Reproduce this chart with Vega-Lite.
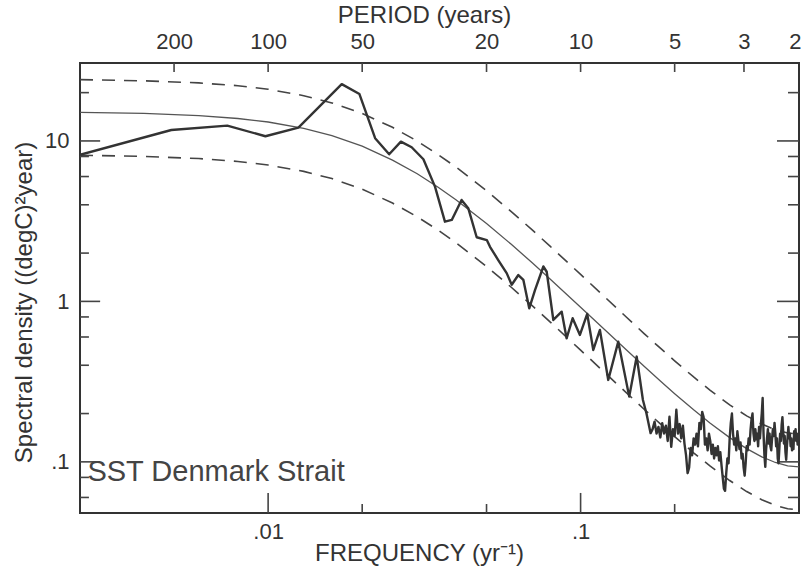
{
  "$schema": "https://vega.github.io/schema/vega-lite/v6.json",
  "width": 719,
  "height": 450,
  "autosize": {"type": "none"},
  "padding": {"left": 80, "top": 63, "right": 2, "bottom": 59},
  "background": "white",
  "config": {
    "view": {"stroke": "#333", "strokeWidth": 2},
    "font": "Liberation Sans",
    "axis": {
      "domain": false, "grid": false, "ticks": false,
      "labelFont": "Liberation Sans", "labelFontSize": 22, "labelColor": "#333",
      "titleFont": "Liberation Sans", "titleFontWeight": "normal", "titleFontSize": 24, "titleColor": "#333",
      "labelOverlap": false, "labelFlush": false, "labelBound": false
    }
  },
  "datasets": {
    "obs": [
      {"f": 0.0025, "s": 8.2}, {"f": 0.0049, "s": 11.7}, {"f": 0.0074, "s": 12.45}, {"f": 0.0098, "s": 10.7},
      {"f": 0.0125, "s": 12.1}, {"f": 0.0172, "s": 22.6}, {"f": 0.0196, "s": 19.6}, {"f": 0.022, "s": 10.4},
      {"f": 0.0244, "s": 8.26}, {"f": 0.0266, "s": 9.9}, {"f": 0.0288, "s": 9.13}, {"f": 0.0314, "s": 7.69},
      {"f": 0.0342, "s": 5.19}, {"f": 0.0368, "s": 3.14}, {"f": 0.0387, "s": 3.22}, {"f": 0.0416, "s": 4.29},
      {"f": 0.0437, "s": 3.81}, {"f": 0.0465, "s": 2.51}, {"f": 0.0501, "s": 2.41}, {"f": 0.0513, "s": 2.19},
      {"f": 0.0545, "s": 1.81}, {"f": 0.058, "s": 1.5}, {"f": 0.0602, "s": 1.27}, {"f": 0.0632, "s": 1.46},
      {"f": 0.0656, "s": 1.36}, {"f": 0.0685, "s": 0.906}, {"f": 0.0715, "s": 1.18}, {"f": 0.076, "s": 1.65},
      {"f": 0.0779, "s": 1.53}, {"f": 0.0818, "s": 0.766}, {"f": 0.087, "s": 0.863}, {"f": 0.0902, "s": 0.589},
      {"f": 0.0943, "s": 0.785}, {"f": 0.0995, "s": 0.618}, {"f": 0.105, "s": 0.835}, {"f": 0.1098, "s": 0.498},
      {"f": 0.1153, "s": 0.664}, {"f": 0.1226, "s": 0.324}, {"f": 0.132, "s": 0.561}, {"f": 0.1431, "s": 0.255},
      {"f": 0.1512, "s": 0.453}, {"f": 0.1583, "s": 0.243}, {"f": 0.1625, "s": 0.2}, {"f": 0.1675, "s": 0.151},
      {"f": 0.17, "s": 0.16}, {"f": 0.1725, "s": 0.178}, {"f": 0.175, "s": 0.15}, {"f": 0.1775, "s": 0.165},
      {"f": 0.18, "s": 0.142}, {"f": 0.1825, "s": 0.174}, {"f": 0.185, "s": 0.15}, {"f": 0.1875, "s": 0.168},
      {"f": 0.19, "s": 0.135}, {"f": 0.1925, "s": 0.191}, {"f": 0.195, "s": 0.124}, {"f": 0.1975, "s": 0.16},
      {"f": 0.2, "s": 0.145}, {"f": 0.2025, "s": 0.211}, {"f": 0.205, "s": 0.15}, {"f": 0.2075, "s": 0.172},
      {"f": 0.21, "s": 0.14}, {"f": 0.2125, "s": 0.168}, {"f": 0.215, "s": 0.13}, {"f": 0.2175, "s": 0.11},
      {"f": 0.22, "s": 0.085}, {"f": 0.2225, "s": 0.092}, {"f": 0.225, "s": 0.122}, {"f": 0.2275, "s": 0.11},
      {"f": 0.23, "s": 0.14}, {"f": 0.2325, "s": 0.128}, {"f": 0.235, "s": 0.15}, {"f": 0.2375, "s": 0.125},
      {"f": 0.24, "s": 0.175}, {"f": 0.2425, "s": 0.16}, {"f": 0.245, "s": 0.205}, {"f": 0.2475, "s": 0.19},
      {"f": 0.25, "s": 0.128}, {"f": 0.2525, "s": 0.14}, {"f": 0.255, "s": 0.118}, {"f": 0.2575, "s": 0.15},
      {"f": 0.26, "s": 0.135}, {"f": 0.2625, "s": 0.112}, {"f": 0.265, "s": 0.128}, {"f": 0.2675, "s": 0.105},
      {"f": 0.27, "s": 0.122}, {"f": 0.2725, "s": 0.11}, {"f": 0.275, "s": 0.125}, {"f": 0.2775, "s": 0.102},
      {"f": 0.28, "s": 0.115}, {"f": 0.2825, "s": 0.095}, {"f": 0.285, "s": 0.08}, {"f": 0.2875, "s": 0.068},
      {"f": 0.29, "s": 0.066}, {"f": 0.2925, "s": 0.085}, {"f": 0.295, "s": 0.105}, {"f": 0.2975, "s": 0.098},
      {"f": 0.3, "s": 0.14}, {"f": 0.3025, "s": 0.175}, {"f": 0.305, "s": 0.2}, {"f": 0.3075, "s": 0.15},
      {"f": 0.31, "s": 0.128}, {"f": 0.3125, "s": 0.14}, {"f": 0.315, "s": 0.118}, {"f": 0.3175, "s": 0.155},
      {"f": 0.32, "s": 0.135}, {"f": 0.3225, "s": 0.12}, {"f": 0.325, "s": 0.132}, {"f": 0.3275, "s": 0.105},
      {"f": 0.33, "s": 0.112}, {"f": 0.3325, "s": 0.092}, {"f": 0.335, "s": 0.082}, {"f": 0.3375, "s": 0.098},
      {"f": 0.34, "s": 0.125}, {"f": 0.3425, "s": 0.118}, {"f": 0.345, "s": 0.14}, {"f": 0.3475, "s": 0.128},
      {"f": 0.35, "s": 0.16}, {"f": 0.3525, "s": 0.185}, {"f": 0.355, "s": 0.2}, {"f": 0.3575, "s": 0.15},
      {"f": 0.36, "s": 0.135}, {"f": 0.3625, "s": 0.16}, {"f": 0.365, "s": 0.138}, {"f": 0.3675, "s": 0.15},
      {"f": 0.37, "s": 0.125}, {"f": 0.3725, "s": 0.165}, {"f": 0.375, "s": 0.14}, {"f": 0.3775, "s": 0.17},
      {"f": 0.38, "s": 0.2}, {"f": 0.3825, "s": 0.25}, {"f": 0.385, "s": 0.15}, {"f": 0.3875, "s": 0.11},
      {"f": 0.39, "s": 0.093}, {"f": 0.3925, "s": 0.12}, {"f": 0.395, "s": 0.14}, {"f": 0.3975, "s": 0.16},
      {"f": 0.4, "s": 0.13}, {"f": 0.4025, "s": 0.15}, {"f": 0.405, "s": 0.125}, {"f": 0.4075, "s": 0.118},
      {"f": 0.41, "s": 0.14}, {"f": 0.4125, "s": 0.16}, {"f": 0.415, "s": 0.145}, {"f": 0.4175, "s": 0.175},
      {"f": 0.42, "s": 0.15}, {"f": 0.4225, "s": 0.125}, {"f": 0.425, "s": 0.14}, {"f": 0.4275, "s": 0.105},
      {"f": 0.43, "s": 0.098}, {"f": 0.4325, "s": 0.12}, {"f": 0.435, "s": 0.15}, {"f": 0.4375, "s": 0.135},
      {"f": 0.44, "s": 0.17}, {"f": 0.4425, "s": 0.19}, {"f": 0.445, "s": 0.155}, {"f": 0.4475, "s": 0.13},
      {"f": 0.45, "s": 0.145}, {"f": 0.4525, "s": 0.115}, {"f": 0.455, "s": 0.103}, {"f": 0.4575, "s": 0.125},
      {"f": 0.46, "s": 0.145}, {"f": 0.4625, "s": 0.165}, {"f": 0.465, "s": 0.14}, {"f": 0.4675, "s": 0.15},
      {"f": 0.47, "s": 0.125}, {"f": 0.4725, "s": 0.14}, {"f": 0.475, "s": 0.118}, {"f": 0.4775, "s": 0.135},
      {"f": 0.48, "s": 0.12}, {"f": 0.4825, "s": 0.155}, {"f": 0.485, "s": 0.14}, {"f": 0.4875, "s": 0.16},
      {"f": 0.49, "s": 0.135}, {"f": 0.4925, "s": 0.15}, {"f": 0.495, "s": 0.128}, {"f": 0.4975, "s": 0.145},
      {"f": 0.5, "s": 0.137}
    ],
    "fit": [
      {"f": 0.0025, "s": 15.07, "u": 24.1, "l": 8.14}, {"f": 0.004, "s": 14.84, "u": 23.7, "l": 8.01},
      {"f": 0.006, "s": 14.39, "u": 23.0, "l": 7.77}, {"f": 0.008, "s": 13.8, "u": 22.1, "l": 7.45},
      {"f": 0.01, "s": 13.12, "u": 21.0, "l": 7.08}, {"f": 0.013, "s": 11.97, "u": 19.15, "l": 6.46},
      {"f": 0.016, "s": 10.79, "u": 17.26, "l": 5.83}, {"f": 0.02, "s": 9.27, "u": 14.83, "l": 5.01},
      {"f": 0.025, "s": 7.6, "u": 12.16, "l": 4.1}, {"f": 0.03, "s": 6.24, "u": 9.98, "l": 3.37},
      {"f": 0.035, "s": 5.14, "u": 8.22, "l": 2.78}, {"f": 0.04, "s": 4.28, "u": 6.85, "l": 2.31},
      {"f": 0.05, "s": 3.056, "u": 4.89, "l": 1.65}, {"f": 0.06, "s": 2.268, "u": 3.63, "l": 1.225},
      {"f": 0.07, "s": 1.741, "u": 2.79, "l": 0.94}, {"f": 0.08, "s": 1.376, "u": 2.2, "l": 0.743},
      {"f": 0.1, "s": 0.9206, "u": 1.473, "l": 0.497}, {"f": 0.12, "s": 0.6605, "u": 1.057, "l": 0.357},
      {"f": 0.14, "s": 0.4992, "u": 0.799, "l": 0.27}, {"f": 0.16, "s": 0.3928, "u": 0.628, "l": 0.212},
      {"f": 0.18, "s": 0.3191, "u": 0.511, "l": 0.1723}, {"f": 0.2, "s": 0.2661, "u": 0.426, "l": 0.1437},
      {"f": 0.23, "s": 0.211, "u": 0.338, "l": 0.1139}, {"f": 0.26, "s": 0.1741, "u": 0.279, "l": 0.094},
      {"f": 0.3, "s": 0.1416, "u": 0.2266, "l": 0.0765}, {"f": 0.34, "s": 0.1209, "u": 0.1934, "l": 0.0653},
      {"f": 0.38, "s": 0.1075, "u": 0.172, "l": 0.0581}, {"f": 0.42, "s": 0.0991, "u": 0.1586, "l": 0.0535},
      {"f": 0.46, "s": 0.0945, "u": 0.1512, "l": 0.051}, {"f": 0.5, "s": 0.093, "u": 0.1488, "l": 0.0502}
    ],
    "tk": [
      {"id": "a1", "f": 0.0025, "s": 0.1}, {"id": "a1", "f": 0.0029, "s": 0.1},
      {"id": "a2", "f": 0.0025, "s": 1}, {"id": "a2", "f": 0.0029, "s": 1},
      {"id": "a3", "f": 0.0025, "s": 10}, {"id": "a3", "f": 0.0029, "s": 10},
      {"id": "b1", "f": 0.0025, "s": 0.06}, {"id": "b1", "f": 0.00267, "s": 0.06},
      {"id": "b2", "f": 0.0025, "s": 0.08}, {"id": "b2", "f": 0.00267, "s": 0.08},
      {"id": "b3", "f": 0.0025, "s": 0.2}, {"id": "b3", "f": 0.00267, "s": 0.2},
      {"id": "b4", "f": 0.0025, "s": 0.4}, {"id": "b4", "f": 0.00267, "s": 0.4},
      {"id": "b5", "f": 0.0025, "s": 0.6}, {"id": "b5", "f": 0.00267, "s": 0.6},
      {"id": "b6", "f": 0.0025, "s": 0.8}, {"id": "b6", "f": 0.00267, "s": 0.8},
      {"id": "b7", "f": 0.0025, "s": 2}, {"id": "b7", "f": 0.00267, "s": 2},
      {"id": "b8", "f": 0.0025, "s": 4}, {"id": "b8", "f": 0.00267, "s": 4},
      {"id": "b9", "f": 0.0025, "s": 6}, {"id": "b9", "f": 0.00267, "s": 6},
      {"id": "b10", "f": 0.0025, "s": 8}, {"id": "b10", "f": 0.00267, "s": 8},
      {"id": "b11", "f": 0.0025, "s": 20}, {"id": "b11", "f": 0.00267, "s": 20},
      {"id": "c1", "f": 0.4252, "s": 0.1}, {"id": "c1", "f": 0.5, "s": 0.1},
      {"id": "c2", "f": 0.4252, "s": 1}, {"id": "c2", "f": 0.5, "s": 1},
      {"id": "c3", "f": 0.4252, "s": 10}, {"id": "c3", "f": 0.5, "s": 10},
      {"id": "d1", "f": 0.4611, "s": 0.06}, {"id": "d1", "f": 0.5, "s": 0.06},
      {"id": "d2", "f": 0.4611, "s": 0.08}, {"id": "d2", "f": 0.5, "s": 0.08},
      {"id": "d3", "f": 0.4611, "s": 0.2}, {"id": "d3", "f": 0.5, "s": 0.2},
      {"id": "d4", "f": 0.4611, "s": 0.4}, {"id": "d4", "f": 0.5, "s": 0.4},
      {"id": "d5", "f": 0.4611, "s": 0.6}, {"id": "d5", "f": 0.5, "s": 0.6},
      {"id": "d6", "f": 0.4611, "s": 0.8}, {"id": "d6", "f": 0.5, "s": 0.8},
      {"id": "d7", "f": 0.4611, "s": 2}, {"id": "d7", "f": 0.5, "s": 2},
      {"id": "d8", "f": 0.4611, "s": 4}, {"id": "d8", "f": 0.5, "s": 4},
      {"id": "d9", "f": 0.4611, "s": 6}, {"id": "d9", "f": 0.5, "s": 6},
      {"id": "d10", "f": 0.4611, "s": 8}, {"id": "d10", "f": 0.5, "s": 8},
      {"id": "d11", "f": 0.4611, "s": 20}, {"id": "d11", "f": 0.5, "s": 20},
      {"id": "e1", "f": 0.01, "s": 0.048}, {"id": "e1", "f": 0.01, "s": 0.064},
      {"id": "e2", "f": 0.1, "s": 0.048}, {"id": "e2", "f": 0.1, "s": 0.064},
      {"id": "g1", "f": 0.02, "s": 0.048}, {"id": "g1", "f": 0.02, "s": 0.0546},
      {"id": "g2", "f": 0.05, "s": 0.048}, {"id": "g2", "f": 0.05, "s": 0.0546},
      {"id": "g3", "f": 0.2, "s": 0.048}, {"id": "g3", "f": 0.2, "s": 0.0546},
      {"id": "h1", "f": 0.005, "s": 26.9}, {"id": "h1", "f": 0.005, "s": 30.6},
      {"id": "h2", "f": 0.01, "s": 26.9}, {"id": "h2", "f": 0.01, "s": 30.6},
      {"id": "h3", "f": 0.02, "s": 26.9}, {"id": "h3", "f": 0.02, "s": 30.6},
      {"id": "h4", "f": 0.05, "s": 26.9}, {"id": "h4", "f": 0.05, "s": 30.6},
      {"id": "h5", "f": 0.1, "s": 26.9}, {"id": "h5", "f": 0.1, "s": 30.6},
      {"id": "h6", "f": 0.2, "s": 26.9}, {"id": "h6", "f": 0.2, "s": 30.6},
      {"id": "h7", "f": 0.3333333333, "s": 26.9}, {"id": "h7", "f": 0.3333333333, "s": 30.6}
    ],
    "note": [{"f": 0.00264, "s": 0.086, "label": "SST Denmark Strait"}]
  },
  "resolve": {"scale": {"x": "shared", "y": "shared"}, "axis": {"x": "independent", "y": "independent"}},
  "layer": [
    {
      "data": {"name": "fit"},
      "mark": {"type": "line", "color": "#555", "strokeWidth": 1.3, "clip": true},
      "encoding": {
        "x": {"field": "f", "type": "quantitative", "scale": {"type": "log", "domain": [0.0025, 0.5], "nice": false}, "axis": null},
        "y": {"field": "s", "type": "quantitative", "scale": {"type": "log", "domain": [0.048, 30.6], "nice": false}, "axis": null}
      }
    },
    {
      "data": {"name": "fit"},
      "mark": {"type": "line", "color": "#444", "strokeWidth": 1.6, "strokeDash": [13, 9], "clip": true},
      "encoding": {
        "x": {"field": "f", "type": "quantitative",
          "axis": {"orient": "top", "values": [0.005, 0.01, 0.02, 0.05, 0.1, 0.2, 0.3333333333, 0.5], "labelPadding": 10,
            "labelAlign": {"condition": {"test": "datum.value > 0.4", "value": "right"}, "value": "center"},
            "labelOffset": {"condition": {"test": "datum.value > 0.4", "value": 2}, "value": 0},
            "labelExpr": "format(1/datum.value, '.0f')", "title": "PERIOD  (years)", "titleX": 344, "titleY": -48, "titleBaseline": "middle"}},
        "y": {"field": "u", "type": "quantitative", "axis": null}
      }
    },
    {
      "data": {"name": "fit"},
      "mark": {"type": "line", "color": "#444", "strokeWidth": 1.6, "strokeDash": [13, 9], "clip": true},
      "encoding": {
        "x": {"field": "f", "type": "quantitative", "axis": null},
        "y": {"field": "l", "type": "quantitative", "axis": null}
      }
    },
    {
      "data": {"name": "tk"},
      "mark": {"type": "line", "color": "#444", "strokeWidth": 1.6, "strokeCap": "butt"},
      "encoding": {
        "x": {"field": "f", "type": "quantitative", "axis": null},
        "y": {"field": "s", "type": "quantitative", "axis": null},
        "detail": {"field": "id", "type": "nominal"}
      }
    },
    {
      "data": {"name": "obs"},
      "mark": {"type": "line", "color": "#333", "strokeWidth": 2.4, "strokeJoin": "round", "clip": true},
      "encoding": {
        "x": {"field": "f", "type": "quantitative",
          "axis": {"orient": "bottom", "values": [0.01, 0.1], "labelPadding": 8,
            "labelExpr": "datum.value < 0.05 ? '.01' : '.1'", "title": "FREQUENCY  (yr⁻¹)", "titleX": 339, "titleY": 40, "titleBaseline": "middle"}},
        "y": {"field": "s", "type": "quantitative",
          "axis": {"orient": "left", "values": [0.1, 1, 10], "labelPadding": 11,
            "labelExpr": "datum.value > 5 ? '10' : datum.value > 0.5 ? '1' : '.1'",
            "title": "Spectral density ((degC)²year)", "titleY": 239, "titlePadding": 8}}
      }
    },
    {
      "data": {"name": "note"},
      "mark": {"type": "text", "align": "left", "baseline": "middle", "fontSize": 29, "font": "Liberation Sans", "color": "#444"},
      "encoding": {
        "x": {"field": "f", "type": "quantitative", "axis": null},
        "y": {"field": "s", "type": "quantitative", "axis": null},
        "text": {"field": "label"}
      }
    }
  ]
}
